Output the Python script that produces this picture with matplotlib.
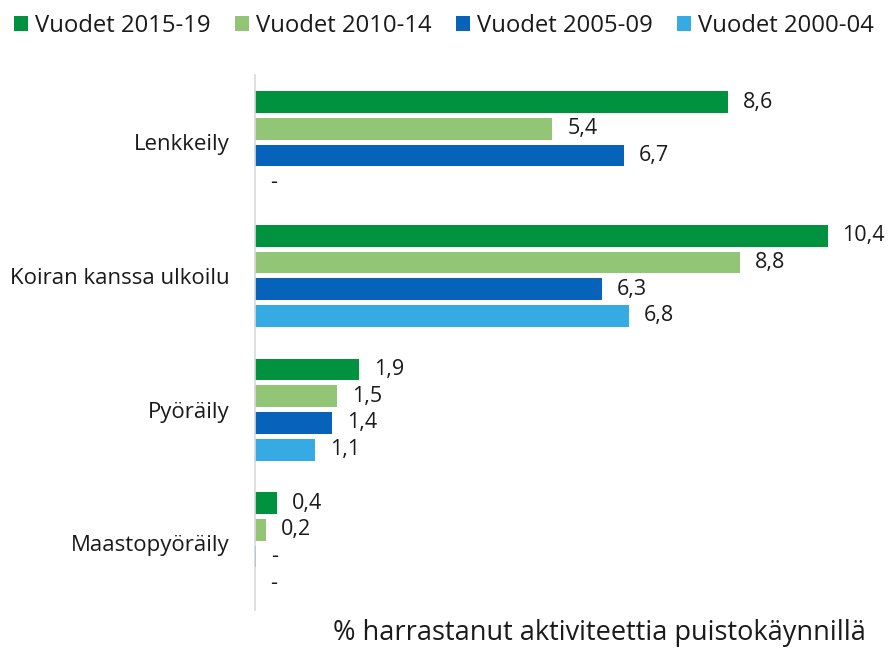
import numpy as np
import matplotlib
matplotlib.use("Agg")
import matplotlib.pyplot as plt

plt.rcParams['font.family'] = ['Open Sans', 'DejaVu Sans']

categories = ["Lenkkeily", "Koiran kanssa ulkoilu", "Pyöräily", "Maastopyöräily"]
series_names = ["Vuodet 2015-19", "Vuodet 2010-14", "Vuodet 2005-09", "Vuodet 2000-04"]
v2015_19 = [8.6, 10.4, 1.9, 0.4]
v2010_14 = [5.4, 8.8, 1.5, 0.2]
v2005_09 = [6.7, 6.3, 1.4, 0.02]
v2000_04 = [None, 6.8, 1.1, None]
labels_2015_19 = ["8,6", "10,4", "1,9", "0,4"]
labels_2010_14 = ["5,4", "8,8", "1,5", "0,2"]
labels_2005_09 = ["6,7", "6,3", "1,4", "-"]
labels_2000_04 = ["-", "6,8", "1,1", "-"]
colors = ["#00923F", "#92C676", "#0762B9", "#36AAE2"]

series = [v2015_19, v2010_14, v2005_09, v2000_04]
series_labels = [labels_2015_19, labels_2010_14, labels_2005_09, labels_2000_04]

fig = plt.figure(figsize=(8.88, 6.49), dpi=100)
ax = fig.add_axes([0.287, 0.060, 0.712, 0.824])

group_pos = np.arange(len(categories))
pitch = 0.2
height = 0.163
for k, (vals, labs, col, name) in enumerate(zip(series, series_labels, colors, series_names)):
    y = group_pos - 1.5 * pitch + k * pitch
    w = [0 if v is None else v for v in vals]
    ax.barh(y, w, height=height, color=col, label=name)
    for yi, wi, lab in zip(y, w, labs):
        ax.text(wi + 0.27, yi, lab, va="center", ha="left", fontsize=15.5, color="#1a1a1a")

ax.set_xlim(0, 11.48)
ax.set_ylim(len(categories) - 0.5, -0.5)
ax.set_yticks(group_pos)
ax.set_yticklabels(categories, fontsize=16, color="#1a1a1a")
ax.tick_params(axis="y", length=0, pad=18.5)
ax.set_xticks([])
for s in ["top", "right", "bottom"]:
    ax.spines[s].set_visible(False)
ax.spines["left"].set_color("#d9d9d9")
ax.spines["left"].set_linewidth(1.2)

fig.text(0.675, 0.003, "% harrastanut aktiviteettia puistokäynnillä", ha="center", va="bottom",
         fontsize=19.5, color="#1a1a1a")

fig.legend(loc="upper center", bbox_to_anchor=(0.5, 1.012), ncol=4, frameon=False,
           fontsize=17.2, handlelength=0.6, handleheight=0.6, handletextpad=0.3,
           columnspacing=1.0, labelcolor="#1a1a1a")

fig.savefig("out.png", dpi=100)
